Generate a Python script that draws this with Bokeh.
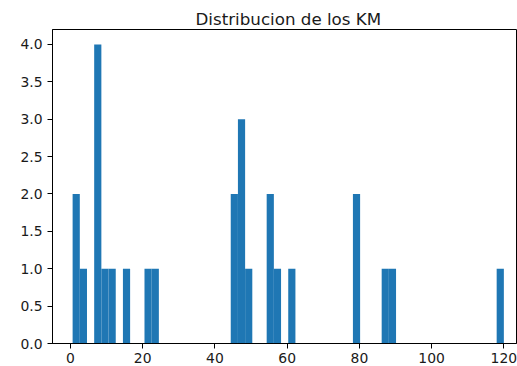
import numpy as np
from bokeh.plotting import figure
from bokeh.models import Range1d, FixedTicker, NumeralTickFormatter
from bokeh.embed import file_html
from bokeh.resources import INLINE

# Estimated km values
km = [0.6, 1.5, 3.5, 7.0, 7.5, 8.0, 8.2, 9.5, 11.0, 15.5, 21.5, 23.5,
      45.0, 46.0, 47.0, 47.5, 48.0, 49.5, 55.0, 55.5, 57.0, 61.0,
      79.0, 79.5, 87.0, 89.0, 120.0]
n_bins = 60
x_ticks = [0, 20, 40, 60, 80, 100, 120]
y_ticks = [0.0, 0.5, 1.0, 1.5, 2.0, 2.5, 3.0, 3.5, 4.0]
title = "Distribucion de los KM"

counts, edges = np.histogram(km, bins=n_bins)

p = figure(width=517, height=366, output_backend="svg",
           toolbar_location=None, title=title,
           x_range=Range1d(-4.97, 123.5), y_range=Range1d(0, 4.2),
           min_border_left=52, min_border_top=29, min_border_right=1,
           min_border_bottom=23)

p.quad(left=edges[:-1], right=edges[1:], bottom=0, top=counts,
       fill_color="#1f77b4", line_color=None)

p.title.align = "left"
p.title.offset = 143
p.title.text_font = "DejaVu Sans"
p.title.text_font_size = "16.7px"
p.title.text_font_style = "normal"
p.title.text_color = "#1a1a1a"
p.title.standoff = 1

p.xgrid.visible = False
p.ygrid.visible = False
p.outline_line_color = "black"
p.outline_line_width = 1
p.outline_line_alpha = 1

for ax in (p.xaxis[0], p.yaxis[0]):
    ax.axis_line_color = "black"
    ax.major_tick_line_color = "black"
    ax.major_tick_out = 5
    ax.major_tick_in = 0
    ax.minor_tick_line_color = None
    ax.major_label_text_font = "DejaVu Sans"
    ax.major_label_text_font_size = "13.9px"
    ax.major_label_text_color = "#1a1a1a"

p.xaxis.major_label_standoff = 4
p.yaxis.major_label_standoff = 5

p.xaxis.ticker = FixedTicker(ticks=x_ticks)
p.yaxis.ticker = FixedTicker(ticks=y_ticks)
p.yaxis.formatter = NumeralTickFormatter(format="0.0")

open("out.html", "w").write(file_html(p, INLINE))
